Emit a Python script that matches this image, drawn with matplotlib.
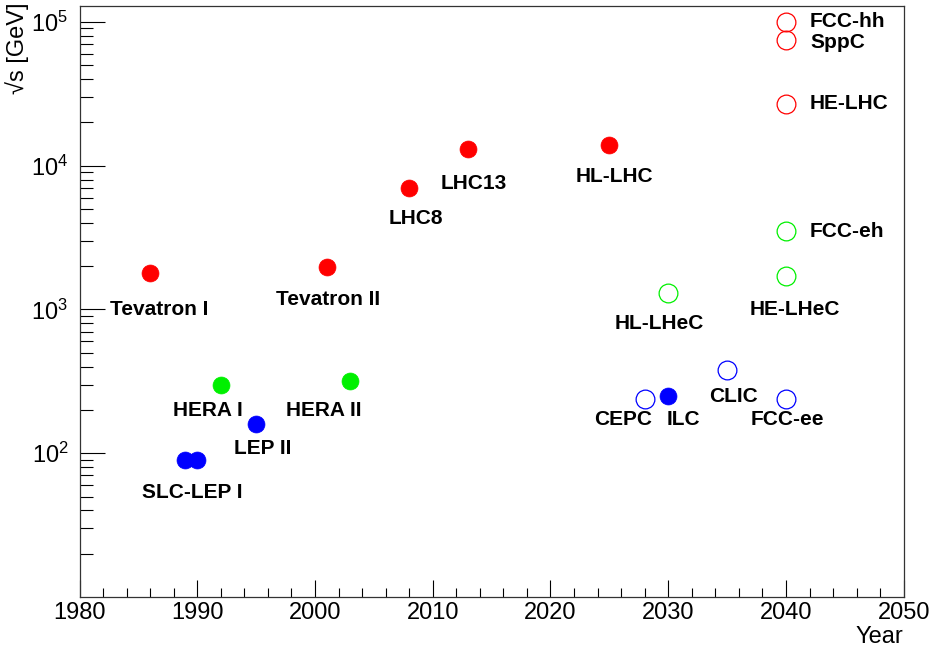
import numpy as np
import matplotlib.pyplot as plt
from matplotlib.ticker import FixedLocator, MultipleLocator, LogLocator, NullFormatter

plt.rcParams['font.family'] = ['Liberation Sans', 'DejaVu Sans']
plt.rcParams['mathtext.fontset'] = 'custom'
plt.rcParams['mathtext.rm'] = 'Liberation Sans'

# colliders: name, start year, sqrt(s) in GeV, colour, built (filled) or planned (open)
names = ["Tevatron I", "Tevatron II", "LHC8", "LHC13", "HL-LHC",
         "FCC-hh", "SppC", "HE-LHC",
         "HERA I", "HERA II", "FCC-eh", "HE-LHeC", "HL-LHeC",
         "SLC-LEP I", "", "LEP II", "CEPC", "ILC", "CLIC", "FCC-ee"]
years = [1986, 2001, 2008, 2013, 2025,
         2040, 2040, 2040,
         1992, 2003, 2040, 2040, 2030,
         1989, 1990, 1995, 2028, 2030, 2035, 2040]
energies = [1800, 1960, 7000, 13000, 14000,
            100000, 75000, 27000,
            300, 320, 3500, 1700, 1300,
            90, 90, 160, 240, 250, 380, 240]
colours = ["r", "r", "r", "r", "r",
           "r", "r", "r",
           "g", "g", "g", "g", "g",
           "b", "b", "b", "b", "b", "b", "b"]
filled = [True, True, True, True, True,
          False, False, False,
          True, True, False, False, False,
          True, True, True, False, True, False, False]

# label offsets from the marker, in pixels (x right, y down), and alignment
label_dx = [9, 1, 7, 6, 5,
            24, 24, 24,
            -13, -27, 24, 9, -9,
            7, 0, 7, -22, 15, 6, 1]
label_dy = [37, 32, 31, 34, 32,
            0, 3, 0,
            26, 30, 0, 33, 30,
            33, 0, 25, 21, 23, 27, 21]
label_ha = ["center"] * 5 + ["left"] * 3 + ["center", "center", "left", "center", "center"] + ["center"] * 7

palette = {"r": "#ff0000", "g": "#00f000", "b": "#0000ff"}

fig = plt.figure(figsize=(9.32, 6.53), dpi=100)
ax = fig.add_axes([79.5 / 932, 1 - 597 / 653, (903.7 - 79.5) / 932, (597 - 6) / 653])

px = 0.72  # pixel -> points at 100 dpi
for name, x, y, c, f, dx, dy, ha in zip(names, years, energies, colours, filled,
                                         label_dx, label_dy, label_ha):
    col = palette[c]
    if f:
        ax.plot(x, y, "o", ms=12.2, mfc=col, mec=col, mew=0.5, zorder=3)
    else:
        ax.plot(x, y, "o", ms=13.5, mfc="none", mec=col, mew=0.9, zorder=3)
    if name:
        ax.annotate(name, (x, y), xytext=(dx * px, -dy * px), textcoords="offset points",
                    ha=ha, va="center", fontsize=15, fontweight="bold")

ax.set_xlim(1980, 2050)
ax.set_yscale("log")
ax.set_ylim(10, 1.29e5)

ax.xaxis.set_major_locator(MultipleLocator(10))
ax.xaxis.set_minor_locator(MultipleLocator(2))
ax.yaxis.set_major_locator(FixedLocator([1e2, 1e3, 1e4, 1e5]))
ax.yaxis.set_minor_locator(LogLocator(base=10, subs=np.arange(2, 10)))
ax.yaxis.set_minor_formatter(NullFormatter())

ax.tick_params(axis="x", which="major", direction="in", length=12.2, width=0.8,
               labelsize=17, pad=3.6, top=False)
ax.tick_params(axis="x", which="minor", direction="in", length=6.5, width=0.8, top=False)
ax.tick_params(axis="y", which="major", direction="in", length=18, width=0.8,
               labelsize=17, pad=8, right=False)
ax.tick_params(axis="y", which="minor", direction="in", length=9.4, width=0.8, right=False)
for s in ax.spines.values():
    s.set_linewidth(0.9)
    s.set_color("#333333")

fig.text(903.7 / 932, 1 - 637 / 653, "Year", ha="right", va="center", fontsize=17)
fig.text(17 / 932, 1 - 2 / 653, "\u221as [GeV]", rotation=90, ha="center", va="top", fontsize=17)

fig.savefig("out.png", dpi=100)
